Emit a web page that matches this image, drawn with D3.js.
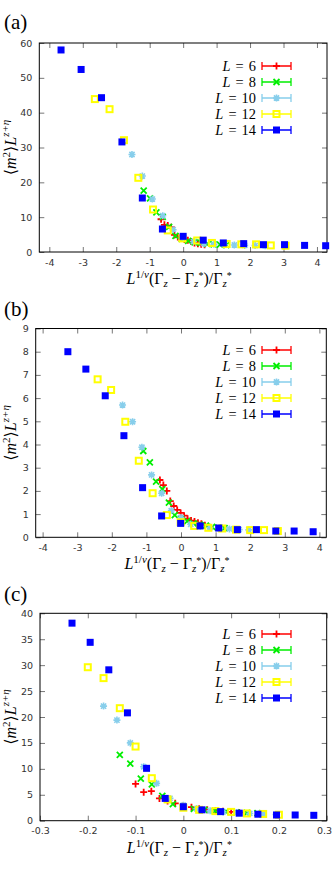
<!DOCTYPE html>
<html>
<head>
<meta charset="utf-8">
<script src="https://cdn.jsdelivr.net/npm/d3@7"></script>
<style>
  body { margin: 0; background: #fff; }
  svg { display: block; }
  .tick text { font-family: "DejaVu Sans", sans-serif; font-size: 9.5px; fill: #333; }
  .math { font-family: "Liberation Serif", "DejaVu Serif", serif; fill: #000; }
</style>
</head>
<body>
<svg id="myGraph" width="332" height="880"></svg>
<script>
// system sizes L
var sizes = [6, 8, 10, 12, 14];

// (a)
var aX6  = [-0.66,-0.56,-0.46,-0.36,-0.26,-0.16,-0.06,0.04,0.14,0.24,0.34,0.44,0.54,0.64];
var aY6  = [9.4,7.8,7.6,7.1,4.9,4.3,4.0,3.6,3.4,3.0,2.6,2.4,2.2,2.1];
var aX8  = [-1.18,-0.99,-0.80,-0.61,-0.42,-0.23,-0.04,0.15,0.34,0.53,0.72,0.91,1.10,1.29];
var aY8  = [17.6,15.4,11.4,10.1,7.2,4.6,3.8,3.2,2.8,2.6,2.3,2.2,2.1,2.0];
var aX10 = [-1.53,-1.22,-0.92,-0.61,-0.30,0.0,0.31,0.62,0.92,1.23,1.53,1.84,2.15,2.45];
var aY10 = [28.0,21.8,15.2,10.4,6.4,4.1,3.0,2.4,2.2,2.1,2.0,1.9,1.85,1.8];
var aX12 = [-2.64,-2.20,-1.77,-1.34,-0.90,-0.46,-0.02,0.42,0.86,1.30,1.74,2.18,2.62,3.06];
var aY12 = [43.9,41.0,32.1,21.3,12.2,6.2,3.9,3.3,2.6,2.3,2.2,2.2,1.9,1.8];
var aX14 = [-3.65,-3.05,-2.44,-1.83,-1.22,-0.62,0.0,0.60,1.20,1.81,2.40,3.03,3.63,4.26];
var aY14 = [58.0,52.4,44.3,31.6,15.5,6.6,4.5,3.4,2.6,2.4,2.1,2.1,1.9,1.8];

// (b)
var bX6  = [-0.61,-0.51,-0.41,-0.31,-0.21,-0.11,-0.01,0.09,0.19,0.29,0.39,0.49,0.59,0.69];
var bY6  = [2.47,2.25,2.00,1.56,1.35,1.18,1.05,0.93,0.80,0.72,0.68,0.63,0.58,0.52];
var bX8  = [-1.09,-0.90,-0.72,-0.54,-0.35,-0.18,0.0,0.18,0.36,0.54,0.72,0.90,1.08,1.26];
var bY8  = [3.72,3.23,2.40,2.08,1.49,0.96,0.82,0.70,0.60,0.55,0.50,0.45,0.42,0.40];
var bX10 = [-1.69,-1.40,-1.13,-0.85,-0.56,-0.28,0.0,0.28,0.56,0.84,1.12,1.40,1.68,1.96];
var bY10 = [5.70,4.98,3.88,2.69,1.90,1.15,0.85,0.56,0.48,0.42,0.40,0.36,0.33,0.32];
var bX12 = [-2.41,-2.02,-1.61,-1.22,-0.82,-0.41,-0.01,0.38,0.79,1.19,1.59,2.00,2.40,2.80];
var bY12 = [6.81,6.35,4.98,3.30,1.90,0.96,0.65,0.49,0.41,0.38,0.33,0.31,0.31,0.27];
var bX14 = [-3.27,-2.75,-2.19,-1.65,-1.11,-0.56,-0.01,0.55,1.09,1.63,2.18,2.74,3.27,3.82];
var bY14 = [8.0,7.25,6.1,4.38,2.14,0.92,0.60,0.49,0.40,0.33,0.33,0.27,0.27,0.24];

// (c)
var cX6  = [-0.100,-0.083,-0.067,-0.050,-0.033,-0.017,0.0,0.017,0.033,0.050,0.067,0.083,0.100,0.117];
var cY6  = [7.1,5.5,5.7,4.3,3.8,3.35,2.9,2.6,2.3,2.1,1.95,1.8,1.7,1.6];
var cX8  = [-0.133,-0.111,-0.089,-0.066,-0.044,-0.022,0.0,0.022,0.044,0.066,0.089,0.111,0.133,0.155];
var cY8  = [12.7,11.0,8.1,7.0,4.8,3.2,2.7,2.3,2.1,1.9,1.75,1.6,1.5,1.45];
var cX10 = [-0.167,-0.139,-0.111,-0.083,-0.056,-0.028,0.0,0.028,0.056,0.083,0.111,0.139,0.167,0.194];
var cY10 = [22.1,19.4,15.0,10.4,7.2,4.3,3.0,2.3,1.9,1.7,1.55,1.4,1.3,1.2];
var cX12 = [-0.200,-0.167,-0.133,-0.100,-0.066,-0.033,0.0,0.033,0.067,0.100,0.133,0.167,0.200];
var cY12 = [29.6,27.5,21.7,14.3,8.2,4.1,2.5,2.1,1.85,1.7,1.4,1.3,1.15];
var cX14 = [-0.233,-0.195,-0.156,-0.117,-0.077,-0.038,0.0,0.039,0.078,0.117,0.156,0.195,0.234,0.273];
var cY14 = [38.1,34.4,29.1,20.8,10.1,4.3,2.7,2.1,1.75,1.45,1.25,1.1,1.1,1.04];

// tick labels
var xTicksAB = [-4,-3,-2,-1,0,1,2,3,4];
var xTicksC  = [-0.3,-0.2,-0.1,0,0.1,0.2,0.3];
var yTicksA  = [0,10,20,30,40,50,60];
var yTicksB  = [0,1,2,3,4,5,6,7,8,9];
var yTicksC  = [0,5,10,15,20,25,30,35,40];

var colors = ["#ff0000", "#00ee00", "#87ceeb", "#ffff00", "#0000ff"];
var markers = ["plus", "cross", "star", "osquare", "fsquare"];

var svg = d3.select("#myGraph");
var svgWidth = 332;

var panels = [
  {label: "(a)", labelY: 29, left: 39.3, right: 327, top: 43, bottom: 252,
   xdom: [-4.3, 4.3], ydom: [0, 60], xticks: xTicksAB, yticks: yTicksA,
   xs: [aX6, aX8, aX10, aX12, aX14], ys: [aY6, aY8, aY10, aY12, aY14], legY: 66},
  {label: "(b)", labelY: 316, left: 35.7, right: 326.3, top: 328.5, bottom: 537.3,
   xdom: [-4.2, 4.2], ydom: [0, 9], xticks: xTicksAB, yticks: yTicksB,
   xs: [bX6, bX8, bX10, bX12, bX14], ys: [bY6, bY8, bY10, bY12, bY14], legY: 350},
  {label: "(c)", labelY: 601, left: 40, right: 326.7, top: 613.3, bottom: 820.7,
   xdom: [-0.3, 0.3], ydom: [0, 40], xticks: xTicksC, yticks: yTicksC,
   xs: [cX6, cX8, cX10, cX12, cX14], ys: [cY6, cY8, cY10, cY12, cY14], legY: 634}
];

function drawMarker(g, type, color) {
  var s = 3.5;
  if (type == "plus") {
    g.append("path").attr("d", "M" + (-s) + ",0H" + s + "M0," + (-s) + "V" + s)
      .attr("stroke", color).attr("stroke-width", 1.8).attr("fill", "none");
  } else if (type == "cross") {
    g.append("path").attr("d", "M-3,-3L3,3M-3,3L3,-3")
      .attr("stroke", color).attr("stroke-width", 1.8).attr("fill", "none");
  } else if (type == "star") {
    g.append("path").attr("d", "M" + (-s) + ",0H" + s + "M0," + (-s) + "V" + s + "M-2.6,-2.6L2.6,2.6M-2.6,2.6L2.6,-2.6")
      .attr("stroke", color).attr("stroke-width", 1.6).attr("fill", "none");
  } else if (type == "osquare") {
    g.append("rect").attr("x", -3).attr("y", -3).attr("width", 6).attr("height", 6)
      .attr("fill", "none").attr("stroke", color).attr("stroke-width", 2);
  } else {
    g.append("rect").attr("x", -3.5).attr("y", -3.5).attr("width", 7).attr("height", 7)
      .attr("fill", color);
  }
}

function fmt(d) {
  return String(Math.round(d * 10) / 10);
}

panels.forEach(function(p) {
  var x = d3.scaleLinear().domain(p.xdom).range([p.left, p.right]);
  var y = d3.scaleLinear().domain(p.ydom).range([p.bottom, p.top]);
  var g = svg.append("g");

  // axes, ticks inward
  var xb = g.append("g").attr("transform", "translate(0," + p.bottom + ")")
    .call(d3.axisBottom(x).tickValues(p.xticks).tickSizeInner(-5).tickSizeOuter(0).tickPadding(7).tickFormat(fmt));
  var xt = g.append("g").attr("transform", "translate(0," + p.top + ")")
    .call(d3.axisTop(x).tickValues(p.xticks).tickSizeInner(-5).tickSizeOuter(0).tickFormat(""));
  var yl = g.append("g").attr("transform", "translate(" + p.left + ",0)")
    .call(d3.axisLeft(y).tickValues(p.yticks).tickSizeInner(-5).tickSizeOuter(0).tickPadding(7).tickFormat(fmt));
  var yr = g.append("g").attr("transform", "translate(" + p.right + ",0)")
    .call(d3.axisRight(y).tickValues(p.yticks).tickSizeInner(-5).tickSizeOuter(0).tickFormat(""));
  [xb, xt, yl, yr].forEach(function(a) {
    a.select(".domain").remove();
    a.selectAll(".tick line").attr("stroke", "#777");
  });
  // keep the last x label inside the page
  xb.selectAll(".tick text").each(function(d) {
    var w = this.getComputedTextLength();
    var over = x(d) + w / 2 - (svgWidth - 0.5);
    if (over > 0) d3.select(this).attr("dx", -over);
  });

  g.append("rect").attr("x", p.left).attr("y", p.top)
    .attr("width", p.right - p.left).attr("height", p.bottom - p.top)
    .attr("fill", "none").attr("stroke", "#000").attr("stroke-width", 1);

  // points, L=6 first, L=14 last on top
  sizes.forEach(function(L, k) {
    var pts = p.xs[k].map(function(v, i) { return [v, p.ys[k][i]]; });
    g.append("g").selectAll("g")
      .data(pts)
      .enter()
      .append("g")
      .attr("transform", function(d) { return "translate(" + x(d[0]) + "," + y(d[1]) + ")"; })
      .each(function() { drawMarker(d3.select(this), markers[k], colors[k]); });
  });

  // legend
  sizes.forEach(function(L, k) {
    var ly = p.legY + k * 16;
    var t = g.append("text").attr("class", "math").attr("x", 256).attr("y", ly + 5)
      .attr("text-anchor", "end").attr("font-size", 14.4).attr("word-spacing", 1.5);
    t.append("tspan").attr("font-style", "italic").text("L");
    t.append("tspan").text(" = " + L);
    var lg = g.append("g");
    lg.append("path").attr("d", "M262," + ly + "H291M262," + (ly - 4) + "V" + (ly + 4) + "M291," + (ly - 4) + "V" + (ly + 4))
      .attr("stroke", colors[k]).attr("stroke-width", 1.3).attr("fill", "none");
    var mg = lg.append("g").attr("transform", "translate(276.5," + ly + ")");
    drawMarker(mg, markers[k], colors[k]);
  });

  // panel label
  svg.append("text").attr("class", "math").attr("x", 4).attr("y", p.labelY)
    .attr("font-size", 21).text(p.label);

  // x label
  var xl = g.append("text").attr("class", "math").attr("x", (p.left + p.right) / 2 - 4)
    .attr("y", p.bottom + 32).attr("text-anchor", "middle").attr("font-size", 16);
  xl.append("tspan").attr("font-style", "italic").text("L");
  xl.append("tspan").attr("font-size", 11).attr("dy", -6).text("1/");
  xl.append("tspan").attr("font-size", 11).attr("font-style", "italic").text("ν");
  xl.append("tspan").attr("dy", 6).text("(Γ");
  xl.append("tspan").attr("font-size", 11).attr("font-style", "italic").attr("dy", 3).text("z");
  xl.append("tspan").attr("dy", -3).text(" − Γ");
  xl.append("tspan").attr("font-size", 11).attr("font-style", "italic").attr("dy", 3).text("z");
  xl.append("tspan").attr("font-size", 10).attr("dy", -8).text("*");
  xl.append("tspan").attr("dy", 5).text(")/Γ");
  xl.append("tspan").attr("font-size", 11).attr("font-style", "italic").attr("dy", 3).text("z");
  xl.append("tspan").attr("font-size", 10).attr("dy", -8).text("*");

  // y label
  var cy = (p.top + p.bottom) / 2;
  var ylb = g.append("text").attr("class", "math").attr("transform", "translate(16," + cy + ") rotate(-90)")
    .attr("text-anchor", "middle").attr("font-size", 16);
  ylb.append("tspan").text("⟨");
  ylb.append("tspan").attr("font-style", "italic").text("m");
  ylb.append("tspan").attr("font-size", 11).attr("dy", -6).text("2");
  ylb.append("tspan").attr("dy", 6).text("⟩");
  ylb.append("tspan").attr("font-style", "italic").text("L");
  ylb.append("tspan").attr("font-size", 11).attr("font-style", "italic").attr("dy", -7).text("z+η");
});
</script>
</body>
</html>
